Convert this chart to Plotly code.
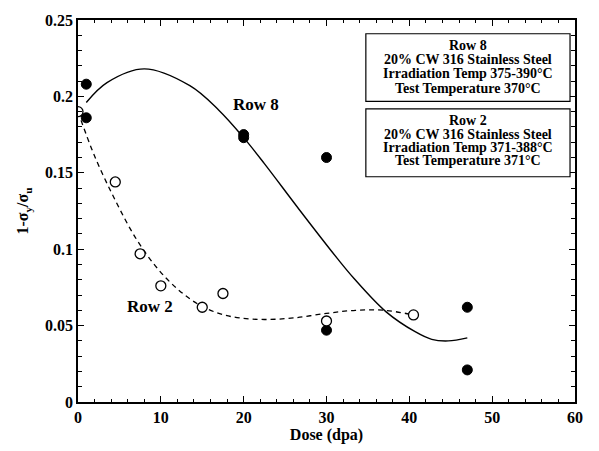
import plotly.graph_objects as go

row8_dose = [1, 1, 20, 20, 30, 30, 47, 47]
row8_val = [0.208, 0.186, 0.175, 0.173, 0.160, 0.047, 0.062, 0.021]

row2_dose = [0, 4.5, 7.5, 10, 15, 17.5, 30, 40.5]
row2_val = [0.190, 0.144, 0.097, 0.076, 0.062, 0.071, 0.053, 0.057]

# Fitted curves
row8_fit_dose = [1, 3.5, 8, 13.5, 17, 20, 22.5, 26.7, 31.3, 33.3, 37.2, 40.7, 42.7, 44.7, 47]
row8_fit_val = [0.196, 0.209, 0.218, 0.207, 0.191, 0.173, 0.156, 0.126, 0.094, 0.081, 0.059, 0.046, 0.041, 0.040, 0.042]

row2_fit_dose = [0, 2, 4.5, 7, 9.5, 12, 14.5, 17, 19.5, 22.5, 26, 30, 33.5, 37, 40.5]
row2_fit_val = [0.190, 0.161, 0.132, 0.107, 0.088, 0.074, 0.064, 0.058, 0.055, 0.054, 0.055, 0.058, 0.060, 0.060, 0.057]

box8_lines = ["Row 8", "20% CW 316 Stainless Steel", "Irradiation Temp 375-390°C", "Test Temperature 370°C"]
box2_lines = ["Row 2", "20% CW 316 Stainless Steel", "Irradiation Temp 371-388°C", "Test Temperature 371°C"]

FONT = "Liberation Serif"

fig = go.Figure()
fig.add_trace(go.Scatter(x=row8_fit_dose, y=row8_fit_val, mode="lines", line_shape="spline",
                         line=dict(color="black", width=1.4), showlegend=False, hoverinfo="skip"))
fig.add_trace(go.Scatter(x=row2_fit_dose, y=row2_fit_val, mode="lines", line_shape="spline",
                         line=dict(color="black", width=1.3, dash="5px,4px"), showlegend=False, hoverinfo="skip"))
fig.add_trace(go.Scatter(x=row8_dose, y=row8_val, mode="markers",
                         marker=dict(symbol="circle", size=10, color="black", line=dict(color="black", width=1)),
                         showlegend=False))
fig.add_trace(go.Scatter(x=row2_dose, y=row2_val, mode="markers",
                         marker=dict(symbol="circle", size=10, color="white", line=dict(color="black", width=1.3)),
                         showlegend=False))
# invisible trace to activate the top/right tick axes
fig.add_trace(go.Scatter(x=[row8_dose[0]], y=[row8_val[0]], xaxis="x2", yaxis="y2", mode="markers",
                         marker=dict(opacity=0), showlegend=False, hoverinfo="skip"))

# legend boxes
box_x0, box_x1 = 34.75, 59.4
fig.add_shape(type="rect", xref="x", yref="y", x0=box_x0, x1=box_x1, y0=0.1968, y1=0.241,
              line=dict(color="black", width=1.2), fillcolor="white", layer="above")
fig.add_shape(type="rect", xref="x", yref="y", x0=box_x0, x1=box_x1, y0=0.1474, y1=0.1919,
              line=dict(color="black", width=1.2), fillcolor="white", layer="above")

box8_y = [0.2330, 0.2240, 0.2147, 0.2054]
box2_y = [0.1840, 0.1753, 0.1667, 0.1580]
cx = (box_x0 + box_x1) / 2
for txt, yy in zip(box8_lines, box8_y):
    fig.add_annotation(x=cx, y=yy, xref="x", yref="y", text=txt, showarrow=False,
                       xanchor="center", yanchor="middle",
                       font=dict(family=FONT, size=14, color="black", weight="bold"))
for txt, yy in zip(box2_lines, box2_y):
    fig.add_annotation(x=cx, y=yy, xref="x", yref="y", text=txt, showarrow=False,
                       xanchor="center", yanchor="middle",
                       font=dict(family=FONT, size=14, color="black", weight="bold"))

fig.add_annotation(x=21.5, y=0.1949, text="Row 8", showarrow=False, xanchor="center", yanchor="middle",
                   font=dict(family=FONT, size=17, color="black", weight="bold"))
fig.add_annotation(x=8.7, y=0.0628, text="Row 2", showarrow=False, xanchor="center", yanchor="middle",
                   font=dict(family=FONT, size=17, color="black", weight="bold"))

axis_common = dict(showgrid=False, zeroline=False, showline=True, linecolor="black", linewidth=1.6,
                   ticks="inside", ticklen=6, tickwidth=1.3, tickcolor="black",
                   tickfont=dict(family=FONT, size=16, color="black", weight="bold"))

xminor = dict(dtick=2, ticks="inside", ticklen=3.5, tickwidth=1.2, tickcolor="black")
yminor = dict(dtick=0.01, ticks="inside", ticklen=4, tickwidth=1.2, tickcolor="black")

fig.update_layout(
    xaxis=dict(range=[0, 60], dtick=10, tick0=0, minor=xminor,
               title=dict(text="Dose (dpa)", standoff=2,
                          font=dict(family=FONT, size=16, color="black", weight="bold")),
               **axis_common),
    yaxis=dict(range=[0, 0.25], dtick=0.05, tick0=0, minor=yminor,
               title=dict(text="1-σ<sub>y</sub>/σ<sub>u</sub>", standoff=12,
                          font=dict(family=FONT, size=16, color="black", weight="bold")),
               **axis_common),
    xaxis2=dict(range=[0, 60], dtick=10, tick0=0, minor=xminor, overlaying="x", side="top",
                showticklabels=False, **axis_common),
    yaxis2=dict(range=[0, 0.25], dtick=0.05, tick0=0, minor=yminor, overlaying="y", side="right",
                showticklabels=False, **axis_common),
)

fig.update_layout(width=599, height=451, margin=dict(l=78, r=24, t=16, b=45),
                  plot_bgcolor="white", paper_bgcolor="white", showlegend=False)

fig.write_html("out.html")
